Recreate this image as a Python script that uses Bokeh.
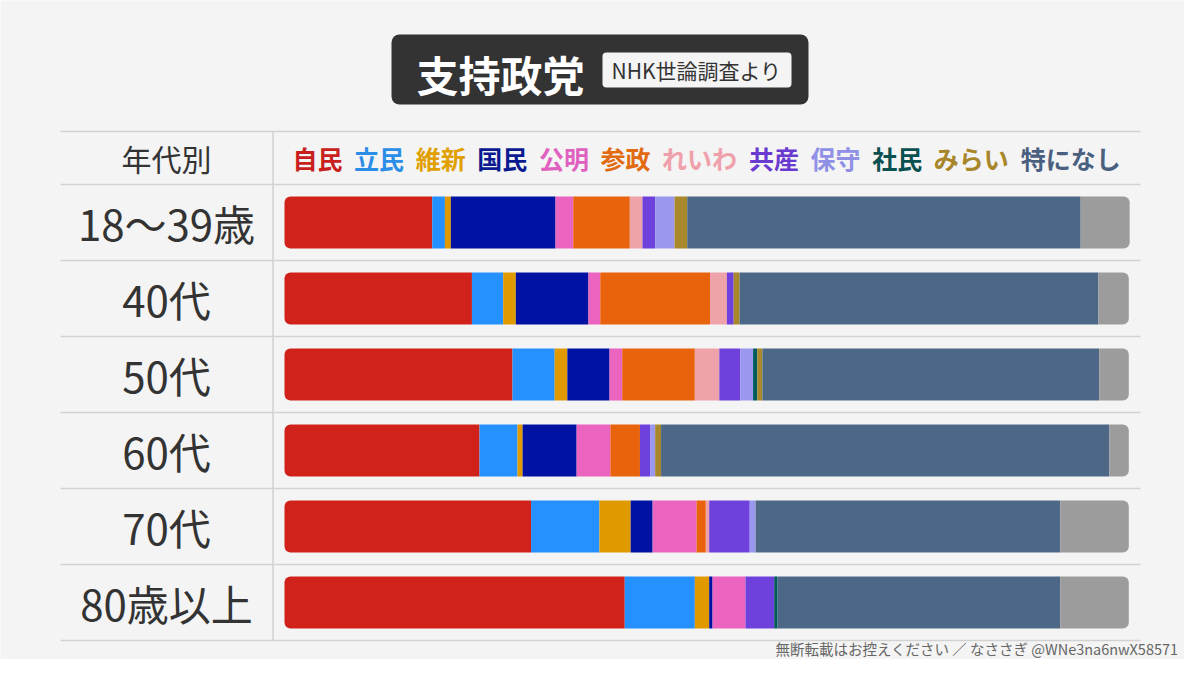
from bokeh.plotting import figure
from bokeh.models import Range1d, ColumnDataSource
from bokeh.core.properties import value
from bokeh.embed import file_html
from bokeh.resources import INLINE
import numpy as np

# ---------------- data ----------------
ages = ["18～39歳", "40代", "50代", "60代", "70代", "80歳以上"]
parties = ["自民", "立民", "維新", "国民", "公明", "参政", "れいわ", "共産", "保守", "社民", "みらい", "特になし"]

jimin   = [17.5, 22.2, 27.0, 23.1, 29.2, 40.3]
rikken  = [1.5, 3.7, 5.0, 4.5, 8.1, 8.3]
ishin   = [0.7, 1.5, 1.5, 0.6, 3.7, 1.7]
kokumin = [12.4, 8.6, 5.0, 6.4, 2.6, 0.4]
komei   = [2.1, 1.4, 1.5, 4.0, 5.2, 3.9]
sansei  = [6.7, 13.0, 8.6, 3.5, 1.1, 0.0]
reiwa   = [1.5, 2.0, 2.9, 0.0, 0.4, 0.0]
kyosan  = [1.5, 0.8, 2.5, 1.2, 4.8, 3.4]
hoshu   = [2.3, 0.0, 1.5, 0.6, 0.7, 0.0]
shamin  = [0.0, 0.0, 0.5, 0.0, 0.0, 0.4]
mirai   = [1.5, 0.7, 0.6, 0.7, 0.0, 0.0]
nashi   = [46.6, 42.5, 39.9, 53.1, 36.1, 33.5]
other   = [5.8, 3.6, 3.5, 2.3, 8.1, 8.1]

title = "支持政党"
subtitle = "NHK世論調査より"
header = "年代別"
footer = "無断転載はお控えください ／ なささぎ @WNe3na6nwX58571"

# ---------------- styles ----------------
FONT = value("Noto Sans CJK JP")
BG = "#f4f4f4"
bar_colors = ["#d0221a", "#2590ff", "#e09a00", "#0012a2", "#ea64c0", "#e9620c",
              "#eea2aa", "#6e40dc", "#9a98ee", "#005a5c", "#a8882a", "#4c6886", "#9c9c9c"]
label_colors = ["#c8201c", "#2a8ee8", "#e0a000", "#0a1a90", "#e060c0", "#e26a10",
                "#f0a0aa", "#6a3ad0", "#9090e6", "#0a5050", "#a8862a", "#4a6080"]

keys = ["jimin", "rikken", "ishin", "kokumin", "komei", "sansei", "reiwa",
        "kyosan", "hoshu", "shamin", "mirai", "nashi", "other"]
vals = [jimin, rikken, ishin, kokumin, komei, sansei, reiwa, kyosan, hoshu,
        shamin, mirai, nashi, other]

data = {k: v for k, v in zip(keys, vals)}
data["row"] = list(range(len(ages)))
data["age"] = ages
src = ColumnDataSource(data)

W, H = 1184, 659
# figure in picture-pixel coordinates
p = figure(width=W, height=H,
           x_range=Range1d(0, W), y_range=Range1d(H, 0),
           output_backend="svg", toolbar_location=None,
           x_axis_location=None, y_axis_location=None, min_border=0)
p.grid.visible = False
p.outline_line_color = None
p.background_fill_color = BG
p.border_fill_color = BG

# percentage scale: 0% at px 284, 100% at px 1128.3
px0, px100 = 284.0, 1128.3
k = (px100 - px0) / 100.0
p.extra_x_ranges = {"pct": Range1d((0 - px0) / k, (W - px0) / k)}
# row scale: row 0 centred at px 222, rows 76px apart
r0, rs = 222.0, 76.0
p.extra_y_ranges = {"row": Range1d((H - r0) / rs, (0 - r0) / rs)}

# table lines
hy = [131] + [184 + 76 * i for i in range(7)]
p.segment(x0=[60] * len(hy), x1=[1140] * len(hy), y0=hy, y1=hy,
          line_color="#d2d2d2", line_width=1.5)
p.segment(x0=[272.5], x1=[272.5], y0=[131], y1=[640], line_color="#d2d2d2", line_width=1.5)

# stacked bars
rends = p.hbar_stack(keys, y="row", height=52 / 76, source=src,
                     fill_color=bar_colors, line_color=None,
                     x_range_name="pct", y_range_name="row")
rends[0].glyph.border_radius = (6, 0, 0, 6)
rends[-1].glyph.border_radius = (0, 6, 6, 0)

# title box
p.quad(left=[391], right=[808], top=[34], bottom=[104], fill_color="#333333",
       line_color=None, border_radius=8)
p.quad(left=[602], right=[791], top=[52], bottom=[87], fill_color="#f4f4f4",
       line_color=None, border_radius=4)
p.text(x=[416], y=[73], text=[title], text_color="white", text_font=FONT,
       text_font_size="42px", text_font_style="bold", text_baseline="middle", text_align="left")
p.text(x=[611], y=[69.5], text=[subtitle], text_color="#333333", text_font=FONT,
       text_font_size="21px", text_baseline="middle", text_align="left")

# header + row labels
p.text(x=[166], y=[157], text=[header], text_color="#333333", text_font=FONT,
       text_font_size="30px", text_baseline="middle", text_align="center")
p.text(x=166, y="row", text="age", source=src, y_range_name="row",
       text_color="#333333", text_font=FONT, text_font_size="42px",
       text_baseline="middle", text_align="center")

# legend labels laid out left to right
adv = np.array([len(s) * 25.3 + 11.0 for s in parties])
lx = 292 + np.concatenate([[0], np.cumsum(adv)[:-1]])
p.text(x=list(lx), y=[157] * len(parties), text=parties, text_color=label_colors,
       text_font=FONT, text_font_size="25px", text_font_style="bold",
       text_baseline="middle", text_align="left")

# footer
p.text(x=[1178], y=[648], text=[footer], text_color="#666666", text_font=FONT,
       text_font_size="14.5px", text_baseline="middle", text_align="right")

open("out.html", "w").write(file_html(p, INLINE))
